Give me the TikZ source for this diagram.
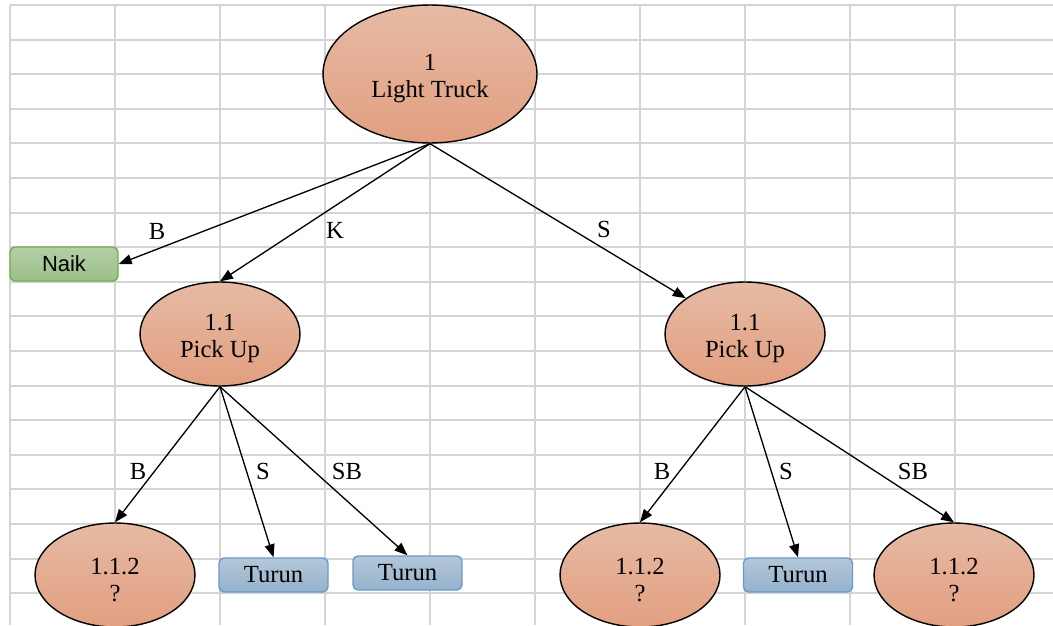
\documentclass[tikz,border=0pt]{standalone}
\usepackage{fontspec}
\setmainfont{Liberation Serif}
\newfontfamily\labelsans{Liberation Sans}
\usetikzlibrary{arrows.meta,shapes.geometric}
\definecolor{nodetop}{HTML}{E6BAA4}
\definecolor{nodebot}{HTML}{E29F80}
\definecolor{downtop}{HTML}{B4C7D9}
\definecolor{downbot}{HTML}{94B2CD}
\definecolor{downline}{HTML}{6A9ACB}
\definecolor{uptop}{HTML}{B3CFA5}
\definecolor{upbot}{HTML}{9BC088}
\definecolor{upline}{HTML}{72AE4A}
\definecolor{sheetgrid}{HTML}{D4D4D4}
% extra head room on the first line of an ellipse label
\newcommand\headroom{\rule{0pt}{1.05em}}

\begin{document}
\begin{tikzpicture}[
    x=0.02cm, y=-0.02cm,
    gridline/.style={draw=sheetgrid, line width=1.1pt},
    state/.style={ellipse, draw, line width=0.8pt, top color=nodetop, bottom color=nodebot,
                  align=center, inner sep=0pt, font=\fontsize{14}{15.5}\selectfont,
                  minimum width=3.2cm, minimum height=2.08cm},
    down/.style={draw=downline, line width=0.8pt, rounded corners=1mm, top color=downtop,
                 bottom color=downbot, minimum width=2.18cm, minimum height=0.68cm,
                 inner sep=0pt, font=\fontsize{14}{16}\selectfont},
    up/.style={draw=upline, line width=0.8pt, rounded corners=1mm, top color=uptop,
               bottom color=upbot, minimum width=2.16cm, minimum height=0.68cm,
               inner sep=0pt, font=\labelsans\fontsize{12.5}{14}\selectfont},
    lbl/.style={inner sep=0pt, font=\fontsize{14}{16}\selectfont},
    link/.style={->, line width=0.75pt},
    >={Triangle[length=2.6mm,width=2mm]}]
  \useasboundingbox (0,0) rectangle (1053,625);
  \fill[white] (0,0) rectangle (1053,625);
  \foreach \x in {10,115,...,955}
    \draw[gridline] (\x,5) -- (\x,625);
  \foreach \k in {0,...,17}
    \draw[gridline] (10,5+34.6*\k) -- (1053,5+34.6*\k);

  \node[state, minimum width=4.28cm, minimum height=2.76cm] (root) at (430,74) {\headroom 1\\Light Truck};
  \node[up] (naik) at (64,264) {Naik};
  \node[state] (pl) at (220,334) {\headroom 1.1\\Pick Up};
  \node[state] (pr) at (745,334) {\headroom 1.1\\Pick Up};
  \node[state] (ll) at (115,575) {\headroom 1.1.2\\?};
  \node[down] (tl1) at (273.5,575) {Turun};
  \node[down] (tl2) at (407.5,573) {Turun};
  \node[state] (rl) at (640,575) {\headroom 1.1.2\\?};
  \node[down] (tr) at (798,575) {Turun};
  \node[state] (rr) at (954,575) {\headroom 1.1.2\\?};

  \draw[link] (root.south) -- (naik.east);
  \draw[link] (root.south) -- (pl.north);
  \draw[link] (root.south) -- (pr);
  \draw[link] (pl.south) -- (ll.north);
  \draw[link] (pl.south) -- (tl1.north);
  \draw[link] (pl.south) -- (tl2.north);
  \draw[link] (pr.south) -- (rl.north);
  \draw[link] (pr.south) -- (tr.north);
  \draw[link] (pr.south) -- (rr.north);

  \node[lbl] (lb) at (157,231) {B};
  \node[lbl] (lk) at (335,230) {K};
  \node[lbl] (ls) at (604,229) {S};
  \node[lbl] (llb) at (138,471) {B};
  \node[lbl] (lls) at (263,471) {S};
  \node[lbl] (llsb) at (347,471) {SB};
  \node[lbl] (lrb) at (662,471) {B};
  \node[lbl] (lrs) at (786,471) {S};
  \node[lbl] (lrsb) at (913,471) {SB};
\end{tikzpicture}
\end{document}
